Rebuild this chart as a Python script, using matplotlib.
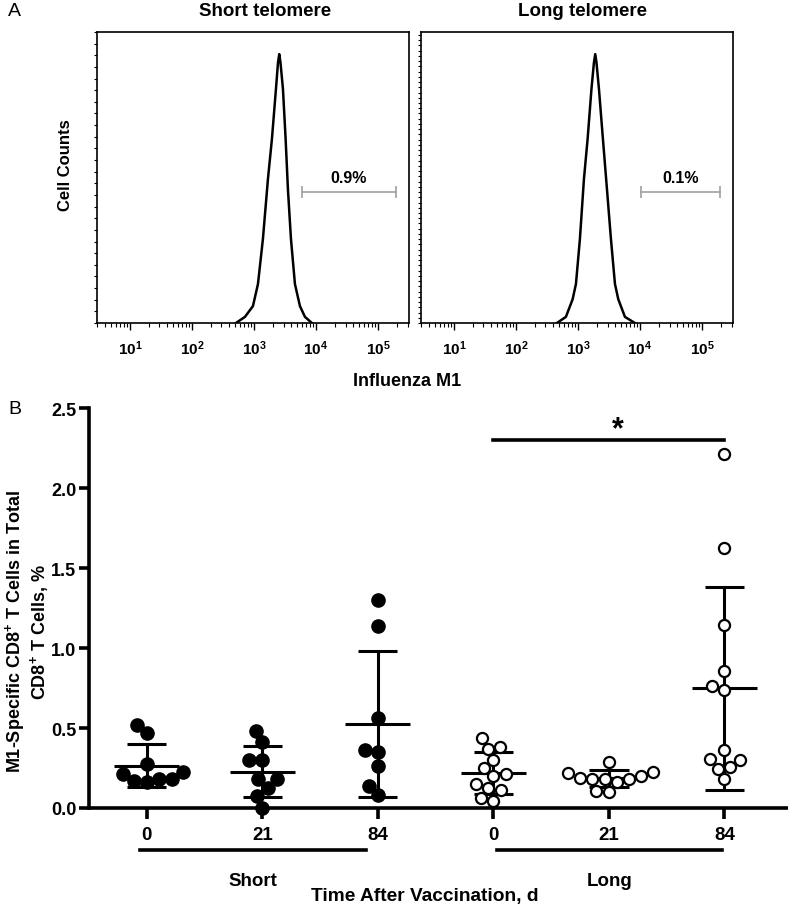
import numpy as np
import matplotlib
matplotlib.use("Agg")
import matplotlib.pyplot as plt
from matplotlib.ticker import LogLocator, FuncFormatter, NullFormatter, MultipleLocator, FixedLocator

plt.rcParams['font.family'] = ['Liberation Sans', 'DejaVu Sans']
plt.rcParams['font.weight'] = 'bold'
plt.rcParams['mathtext.fontset'] = 'custom'
plt.rcParams['mathtext.rm'] = 'Liberation Sans:bold'
plt.rcParams['mathtext.it'] = 'Liberation Sans:bold'
plt.rcParams['mathtext.bf'] = 'Liberation Sans:bold'

# ---- panel A: histogram outlines (log10 M1, relative count)
short_log = [2.71, 2.855, 2.984, 3.065, 3.145, 3.226, 3.29, 3.355, 3.388, 3.408,
             3.428, 3.468, 3.511, 3.548, 3.597, 3.661, 3.742, 3.823, 3.935]
short_h = [0.0, 0.021, 0.058, 0.134, 0.289, 0.495, 0.632, 0.804, 0.895, 0.924,
           0.895, 0.804, 0.632, 0.460, 0.289, 0.134, 0.058, 0.021, 0.0]
long_log = [2.661, 2.806, 2.915, 2.968, 3.032, 3.097, 3.156, 3.218, 3.258, 3.279,
            3.299, 3.339, 3.403, 3.468, 3.532, 3.597, 3.650, 3.758, 3.919]
long_h = [0.0, 0.021, 0.082, 0.134, 0.289, 0.495, 0.632, 0.804, 0.895, 0.924,
          0.895, 0.804, 0.632, 0.460, 0.289, 0.134, 0.082, 0.021, 0.0]
gate_short = [3.77, 5.29]
gate_long = [4.02, 5.29]
pct_short = "0.9%"
pct_long = "0.1%"
hist_titles = ["Short telomere", "Long telomere"]

# ---- panel B: M1-specific CD8+ T cells (%)
day_labels = ["0", "21", "84", "0", "21", "84"]
group_names = ["Short", "Long"]
group_spans = [(-0.06, 1.9), (3.03, 4.98)]
short_d0 = [0.52, 0.47, 0.275, 0.21, 0.18, 0.16, 0.17, 0.18, 0.225]
short_d21 = [0.48, 0.41, 0.30, 0.30, 0.18, 0.18, 0.125, 0.075, 0.0]
short_d84 = [1.30, 1.14, 0.56, 0.35, 0.36, 0.26, 0.14, 0.08]
long_d0 = [0.44, 0.38, 0.37, 0.30, 0.25, 0.21, 0.20, 0.15, 0.125, 0.11, 0.06, 0.046]
long_d21 = [0.29, 0.22, 0.225, 0.19, 0.18, 0.18, 0.18, 0.20, 0.16, 0.10, 0.106]
long_d84 = [2.21, 1.625, 1.146, 0.856, 0.76, 0.74, 0.36, 0.30, 0.306, 0.256, 0.245, 0.18]
series = [short_d0, short_d21, short_d84, long_d0, long_d21, long_d84]

W, H = 788, 912
fig = plt.figure(figsize=(W / 100, H / 100), dpi=100)


def px_box(x0, y_top, w, h):
    return [x0 / W, 1 - (y_top + h) / H, w / W, h / H]


def dec_label(v, pos):
    e = int(round(np.log10(v)))
    if e < 1:
        return ""
    return r"$10^{%d}$" % e


hist_axes = [fig.add_axes(px_box(97, 33, 312, 291)), fig.add_axes(px_box(421, 33, 312, 291))]
curves = [(short_log, short_h, gate_short, pct_short, 0.04),
          (long_log, long_h, gate_long, pct_long, 0.018)]
for ax, (lx, hy, gate, pct, ystep) in zip(hist_axes, curves):
    ax.plot(10 ** np.array(lx), hy, color='black', lw=1.8)
    ax.set_xscale('log')
    ax.set_xlim(10 ** 0.47, 10 ** 5.5)
    ax.set_ylim(0, 1)
    ax.xaxis.set_major_locator(LogLocator(base=10, numticks=10))
    ax.xaxis.set_minor_locator(LogLocator(base=10, subs=np.arange(2, 10), numticks=20))
    ax.xaxis.set_major_formatter(FuncFormatter(dec_label))
    ax.xaxis.set_minor_formatter(NullFormatter())
    ax.yaxis.set_major_locator(MultipleLocator(ystep))
    ax.tick_params(axis='x', which='major', length=5, width=1, labelsize=11, pad=6)
    ax.tick_params(axis='x', which='minor', length=3, width=0.8)
    ax.tick_params(axis='y', length=2.5, width=0.8, labelleft=False)
    for s in ax.spines.values():
        s.set_linewidth(1.2)
    # gate marker
    g = 10 ** np.array(gate)
    ax.plot(g, [0.45, 0.45], color='#a0a0a0', lw=1.2)
    ax.vlines(g, 0.43, 0.47, color='#a0a0a0', lw=1.2)
    ax.text(10 ** np.mean(gate), 0.50, pct, ha='center', va='center', fontsize=11.5)

fig.text(265 / W, 1 - 12 / H, hist_titles[0], ha='center', va='center', fontsize=13.5)
fig.text(583 / W, 1 - 12 / H, hist_titles[1], ha='center', va='center', fontsize=13.5)
fig.text(8 / W, 1 - 12 / H, "A", ha='left', va='center', fontsize=14, weight='normal')
fig.text(65 / W, 1 - 165 / H, "Cell Counts", ha='center', va='center', rotation=90, fontsize=12)
fig.text(407 / W, 1 - 381 / H, "Influenza M1", ha='center', va='center', fontsize=13)

# ---- panel B
axB = fig.add_axes(px_box(89, 409, 699, 400))
axB.set_xlim(-0.5, 5.55)
axB.set_ylim(0, 2.5)
sx = axB.bbox.width / 6.05
sy = axB.bbox.height / 2.5


def swarm(vals, d):
    ys = np.asarray(vals) * sy
    xs = np.zeros(len(ys))
    done = []
    for i in np.argsort(ys):
        blocks = []
        for j in done:
            dy = abs(ys[i] - ys[j])
            if dy < d:
                w = np.sqrt(d * d - dy * dy)
                blocks.append((xs[j] - w, xs[j] + w))
        cands = sorted([0.0] + [b for iv in blocks for b in iv], key=abs)
        for c in cands:
            if all(not (lo + 1e-6 < c < hi - 1e-6) for lo, hi in blocks):
                xs[i] = c
                break
        done.append(i)
    return xs / sx


for k, vals in enumerate(series):
    vals = np.array(vals)
    filled = k < 3
    xs = k + swarm(vals, 13.0 if filled else 12.5)
    if filled:
        axB.plot(xs, vals, 'o', ms=9.5, mfc='black', mec='black', clip_on=False, zorder=5)
    else:
        axB.plot(xs, vals, 'o', ms=8, mfc='white', mec='black', mew=1.6, clip_on=False, zorder=5)
    m = vals.mean()
    sd = vals.std(ddof=1)
    axB.hlines(m, k - 0.28, k + 0.28, color='black', lw=2.2, zorder=4)
    axB.hlines([m - sd, m + sd], k - 0.17, k + 0.17, color='black', lw=2.2, zorder=4)
    axB.vlines(k, m - sd, m + sd, color='black', lw=2.2, zorder=4)

axB.spines['top'].set_visible(False)
axB.spines['right'].set_visible(False)
axB.spines['left'].set_linewidth(2.6)
axB.spines['bottom'].set_linewidth(2.6)
axB.set_yticks(np.arange(0, 2.51, 0.5))
axB.yaxis.set_major_formatter(FuncFormatter(lambda v, p: "%.1f" % v))
axB.xaxis.set_major_locator(FixedLocator(range(6)))
axB.set_xticklabels(day_labels)
axB.tick_params(axis='y', length=7, width=2.6, labelsize=13, pad=2)
axB.tick_params(axis='x', length=8, width=2.6, labelsize=13.5, pad=5)

# group underlines
for (a, b), name in zip(group_spans, group_names):
    axB.plot([a, b], [-0.2625, -0.2625], color='black', lw=2.6, clip_on=False)
    axB.text((a + b) / 2, -0.455, name, ha='center', va='center', fontsize=13.5)

# significance bar
axB.plot([3, 5], [2.3, 2.3], color='black', lw=2.6, clip_on=False)
axB.text(4.08, 2.37, "*", ha='center', va='center', fontsize=22)

fig.text(8 / W, 1 - 410 / H, "B", ha='left', va='center', fontsize=14, weight='normal')
fig.text(27 / W, 1 - 632 / H, "M1-Specific CD8$^{+}$ T Cells in Total\nCD8$^{+}$ T Cells, %",
         ha='center', va='center', rotation=90, fontsize=13, multialignment='center',
         linespacing=1.1)
fig.text(425 / W, 1 - 897 / H, "Time After Vaccination, d", ha='center', va='center', fontsize=13.8)

fig.savefig("out.png", dpi=100)
